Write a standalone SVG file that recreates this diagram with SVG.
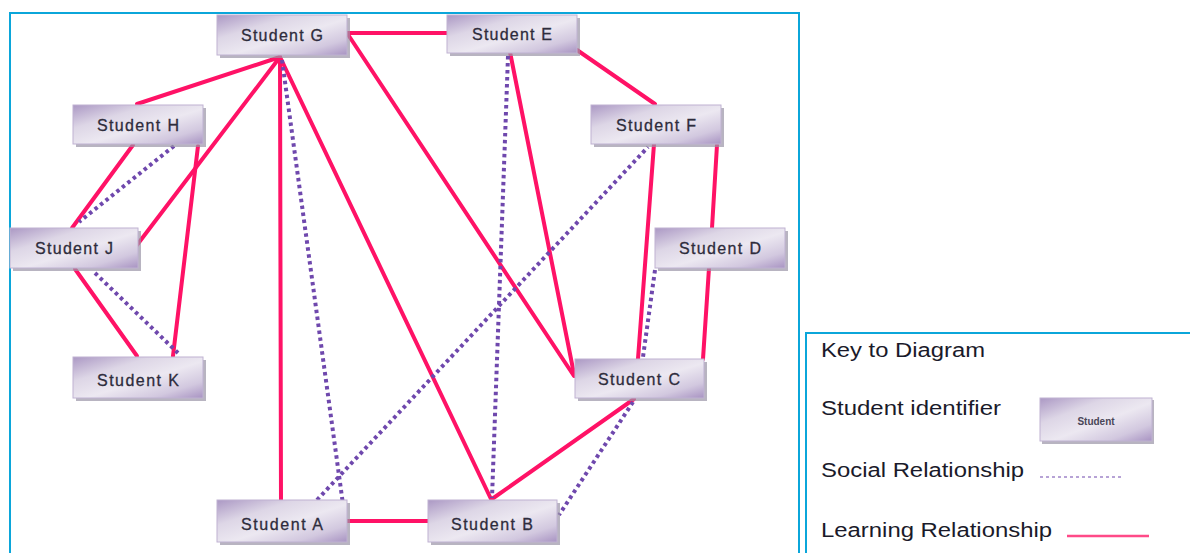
<svg xmlns="http://www.w3.org/2000/svg" width="1190" height="553" viewBox="0 0 1190 553">
<defs>
<linearGradient id="ng" x1="0" y1="0" x2="1" y2="1">
<stop offset="0" stop-color="#ab98c4"/>
<stop offset="0.3" stop-color="#ddd6e6"/>
<stop offset="0.55" stop-color="#ece8f1"/>
<stop offset="0.8" stop-color="#d2c8df"/>
<stop offset="1" stop-color="#a893c2"/>
</linearGradient>
<style>
.frame{fill:none;stroke:#0ba6da;stroke-width:2}
.learn{stroke:#ff1266;stroke-width:4;fill:none;stroke-linecap:round}
.social{stroke:#6f48ad;stroke-width:4;fill:none;stroke-dasharray:3.5 3.5}
.shadow{fill:#9a94a6;opacity:0.7}
.box{fill:url(#ng);stroke:#bfb2d2;stroke-width:1}
.lbl{font-family:"Liberation Sans",Arial,sans-serif;font-size:16px;fill:#2e2c3c;text-anchor:middle;stroke:#2e2c3c;stroke-width:0.3}
.key{font-family:"Liberation Sans",Arial,sans-serif;font-size:20px;fill:#1a1a2a}
</style>
</defs>
<rect width="1190" height="553" fill="#ffffff"/>
<path class="frame" d="M10,560 V13 H799 V560"/>
<path class="frame" d="M806,560 V333 H1195"/>
<g id="connectors">
<line class="learn" x1="347" y1="33" x2="447" y2="33"/>
<line class="learn" x1="280" y1="57" x2="137" y2="104"/>
<line class="learn" x1="280" y1="57" x2="137" y2="245"/>
<line class="learn" x1="280" y1="57" x2="281" y2="500"/>
<line class="learn" x1="280" y1="57" x2="491" y2="499"/>
<line class="learn" x1="347" y1="33" x2="574" y2="376"/>
<line class="learn" x1="510" y1="52" x2="574" y2="374"/>
<line class="learn" x1="577" y1="50" x2="655" y2="104"/>
<line class="learn" x1="654" y1="144" x2="638" y2="359"/>
<line class="learn" x1="717" y1="145" x2="712" y2="228"/>
<line class="learn" x1="709" y1="268" x2="703" y2="359"/>
<line class="learn" x1="634" y1="399" x2="492" y2="499"/>
<line class="learn" x1="347" y1="521" x2="428" y2="521"/>
<line class="learn" x1="133" y1="145" x2="72" y2="228"/>
<line class="learn" x1="198" y1="146" x2="173" y2="356"/>
<line class="learn" x1="75" y1="269" x2="137" y2="356"/>
<line class="social" x1="174" y1="146" x2="79" y2="222"/>
<line class="social" x1="95" y1="273" x2="178" y2="353"/>
<line class="social" x1="282" y1="60" x2="345" y2="519"/>
<line class="social" x1="317" y1="500" x2="648" y2="147"/>
<line class="social" x1="508" y1="56" x2="492" y2="498"/>
<line class="social" x1="655" y1="270" x2="643" y2="357"/>
<line class="social" x1="633" y1="402" x2="559" y2="515"/>
</g>
<g id="node-G"><rect class="shadow" x="220" y="18" width="130" height="40"/><rect class="box" x="217" y="15" width="130" height="40"/><text class="lbl" x="282" y="41" textLength="82" lengthAdjust="spacing">Student G</text></g>
<g id="node-E"><rect class="shadow" x="450" y="18" width="130" height="38"/><rect class="box" x="447" y="15" width="130" height="38"/><text class="lbl" x="512" y="40" textLength="80" lengthAdjust="spacing">Student E</text></g>
<g id="node-H"><rect class="shadow" x="76" y="108" width="130" height="39"/><rect class="box" x="73" y="105" width="130" height="39"/><text class="lbl" x="138" y="131" textLength="82" lengthAdjust="spacing">Student H</text></g>
<g id="node-F"><rect class="shadow" x="594" y="108" width="130" height="39"/><rect class="box" x="591" y="105" width="130" height="39"/><text class="lbl" x="656" y="131" textLength="80" lengthAdjust="spacing">Student F</text></g>
<g id="node-J"><rect class="shadow" x="13" y="231" width="128" height="40"/><rect class="box" x="10" y="228" width="128" height="40"/><text class="lbl" x="74" y="254" textLength="78" lengthAdjust="spacing">Student J</text></g>
<g id="node-D"><rect class="shadow" x="658" y="231" width="130" height="40"/><rect class="box" x="655" y="228" width="130" height="40"/><text class="lbl" x="720" y="254" textLength="82" lengthAdjust="spacing">Student D</text></g>
<g id="node-K"><rect class="shadow" x="76" y="360" width="130" height="41"/><rect class="box" x="73" y="357" width="130" height="41"/><text class="lbl" x="138" y="386" textLength="82" lengthAdjust="spacing">Student K</text></g>
<g id="node-C"><rect class="shadow" x="578" y="362" width="129" height="39"/><rect class="box" x="575" y="359" width="129" height="39"/><text class="lbl" x="639" y="385" textLength="82" lengthAdjust="spacing">Student C</text></g>
<g id="node-A"><rect class="shadow" x="220" y="503" width="130" height="42"/><rect class="box" x="217" y="500" width="130" height="42"/><text class="lbl" x="282" y="530" textLength="82" lengthAdjust="spacing">Student A</text></g>
<g id="node-B"><rect class="shadow" x="431" y="503" width="129" height="42"/><rect class="box" x="428" y="500" width="129" height="42"/><text class="lbl" x="492" y="530" textLength="82" lengthAdjust="spacing">Student B</text></g>
<g id="legend">
<text class="key" x="821" y="357" textLength="164" lengthAdjust="spacingAndGlyphs">Key to Diagram</text>
<text class="key" x="821" y="415" textLength="180" lengthAdjust="spacingAndGlyphs">Student identifier</text>
<rect class="shadow" x="1042" y="400" width="112" height="44"/>
<rect class="box" x="1040" y="398" width="112" height="43"/>
<text x="1096" y="425" font-family="'Liberation Sans',Arial,sans-serif" font-size="10" font-weight="bold" fill="#4a4658" text-anchor="middle">Student</text>
<text class="key" x="821" y="477" textLength="203" lengthAdjust="spacingAndGlyphs">Social Relationship</text>
<line x1="1040" y1="477" x2="1122" y2="477" stroke="#b7a3d6" stroke-width="2" stroke-dasharray="3 3"/>
<text class="key" x="821" y="537" textLength="231" lengthAdjust="spacingAndGlyphs">Learning Relationship</text>
<line x1="1067" y1="536" x2="1149" y2="536" stroke="#ff4a88" stroke-width="2.5"/>
</g>
</svg>
